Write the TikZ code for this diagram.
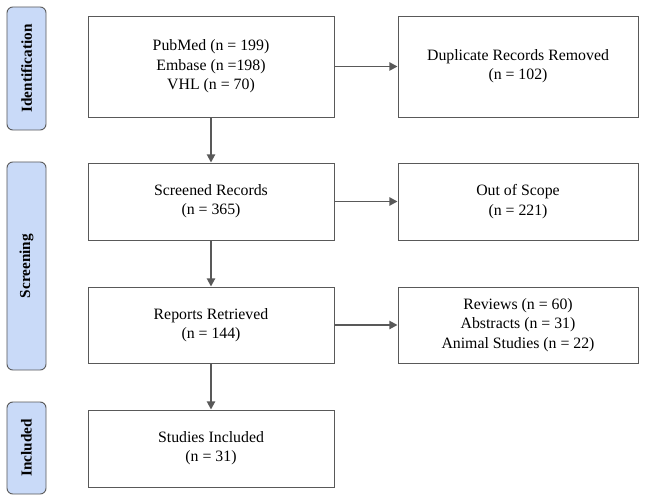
\documentclass[tikz,border=0pt]{standalone}
\usepackage{fontspec}
\setmainfont{Liberation Serif}
\usetikzlibrary{positioning,arrows.meta}
\definecolor{barblue}{HTML}{C9DAF8}
\definecolor{linegray}{HTML}{595959}
\tikzset{
  box/.style={draw=linegray, line width=0.8pt, align=center, minimum width=7.38cm, font=\fontsize{13.5}{16.5}\selectfont},
  stage/.style={draw=linegray, line width=0.8pt, fill=barblue, rounded corners=5pt, minimum height=1.17cm, font=\bfseries\fontsize{13}{15}\selectfont, rotate=90},
  flow/.style={-{Triangle[length=7pt,width=7pt]}, draw=linegray, line width=1.6pt}
}
\begin{document}
\begin{tikzpicture}[x=0.03cm,y=0.03cm]
        \useasboundingbox (0,0) rectangle (652,497);
        % stages
        \node[stage, minimum width=3.69cm] (ident) at (26.5,428.5) {Identification};
        \node[stage, minimum width=6.24cm] (screen) at (26.5,231) {Screening};
        \node[stage, minimum width=2.76cm] (incl) at (26.5,49) {Included};
        
        % main column
        \node[box, minimum height=3.03cm] (search) at (211,430.5) {PubMed (n = 199)\\Embase (n =198)\\VHL (n = 70)};
        \node[box, minimum height=2.31cm] (screened) at (211,295.5) {Screened Records\\(n = 365)};
        \node[box, minimum height=2.28cm] (reports) at (211,172) {Reports Retrieved\\(n = 144)};
        \node[box, minimum height=2.31cm] (included) at (211,48.5) {Studies Included\\(n = 31)};
        
        % excluded column
        \node[box, minimum height=3.03cm, minimum width=7.2cm] (dupl) at (518,430.5) {Duplicate Records Removed\\(n = 102)};
        \node[box, minimum height=2.31cm, minimum width=7.2cm] (scope) at (518,295.5) {Out of Scope\\(n = 221)};
        \node[box, minimum height=2.28cm, minimum width=7.2cm] (excl) at (518,172) {Reviews (n = 60)\\Abstracts (n = 31)\\Animal Studies (n = 22)};
        
        % arrows
        \draw[flow] (search) -- (screened);
        \draw[flow] (screened) -- (reports);
        \draw[flow] (reports) -- (included);
        \draw[flow] (search) -- (dupl);
        \draw[flow] (screened) -- (scope);
        \draw[flow] (reports) -- (excl);
\end{tikzpicture}
\end{document}
